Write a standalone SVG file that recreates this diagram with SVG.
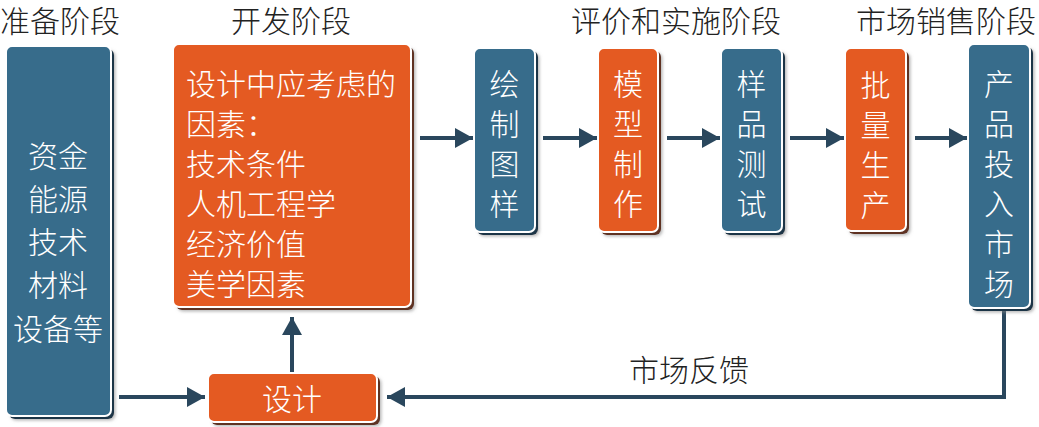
<svg xmlns="http://www.w3.org/2000/svg" width="1039" height="427" viewBox="0 0 1039 427">
<style>
text{font-family:"Noto Sans CJK SC","Noto Sans",sans-serif;font-size:30px;font-weight:300;dominant-baseline:central}
.title{fill:#222;text-anchor:middle}
.lbl{fill:#fff;text-anchor:middle}
.lft{fill:#fff;text-anchor:start}
.blue{fill:#376c8b;stroke:#fff;stroke-width:2}
.orange{fill:#e45a22;stroke:#fff;stroke-width:2}
.sb{fill:#1f3647;filter:url(#soft)}
.so{fill:#5f3220;filter:url(#soft)}
.conn{fill:none;stroke:#2a475d;stroke-width:4}
</style>
<defs>
<filter id="soft" x="-20%" y="-20%" width="140%" height="140%">
<feDropShadow dx="1.5" dy="1.5" stdDeviation="1.5" flood-color="#888" flood-opacity="0.6"/>
</filter>
<marker id="ah" markerUnits="userSpaceOnUse" viewBox="0 0 18 20" refX="18" refY="10" markerWidth="18" markerHeight="20" orient="auto">
<path d="M0,0 L18,10 L0,20 z" fill="#2a475d"/>
</marker>
</defs>
<rect width="1039" height="427" fill="#fff"/>
<g id="titles">
<text class="title" x="60" y="19">准备阶段</text>
<text class="title" x="291" y="19">开发阶段</text>
<text class="title" x="676" y="19">评价和实施阶段</text>
<text class="title" x="946" y="19">市场销售阶段</text>
</g>
<g id="connectors">
<line class="conn" x1="119" y1="397" x2="205" y2="397" marker-end="url(#ah)"/>
<line class="conn" x1="292" y1="372" x2="292" y2="317" marker-end="url(#ah)"/>
<line class="conn" x1="420" y1="138" x2="473" y2="138" marker-end="url(#ah)"/>
<line class="conn" x1="543" y1="138" x2="597" y2="138" marker-end="url(#ah)"/>
<line class="conn" x1="667" y1="138" x2="720" y2="138" marker-end="url(#ah)"/>
<line class="conn" x1="790" y1="138" x2="844" y2="138" marker-end="url(#ah)"/>
<line class="conn" x1="915" y1="138" x2="967" y2="138" marker-end="url(#ah)"/>
<polyline class="conn" points="1004,311 1004,397 387,397" marker-end="url(#ah)"/>
<text class="title" x="689" y="368">市场反馈</text>
</g>
<g id="prep">
<rect class="sb" x="9" y="49" width="105" height="370" rx="6"/>
<rect class="blue" x="6" y="46" width="105" height="370" rx="6"/>
<text class="lbl"><tspan x="58" y="154">资金</tspan><tspan x="58" y="197">能源</tspan><tspan x="58" y="240">技术</tspan><tspan x="58" y="283">材料</tspan><tspan x="58" y="327">设备等</tspan></text>
</g>
<g id="factors">
<rect class="so" x="176" y="47" width="238" height="263" rx="6"/>
<rect class="orange" x="173" y="44" width="238" height="263" rx="6"/>
<text class="lft"><tspan x="186" y="82">设计中应考虑的</tspan><tspan x="186" y="122">因素：</tspan><tspan x="186" y="162">技术条件</tspan><tspan x="186" y="202">人机工程学</tspan><tspan x="186" y="242">经济价值</tspan><tspan x="186" y="282">美学因素</tspan></text>
</g>
<g id="design">
<rect class="so" x="211" y="376" width="169" height="49" rx="6"/>
<rect class="orange" x="208" y="373" width="169" height="49" rx="6"/>
<text class="lbl" x="292" y="397">设计</text>
</g>
<g id="drawing">
<rect class="sb" x="477" y="51" width="61" height="184" rx="6"/>
<rect class="blue" x="474" y="48" width="61" height="184" rx="6"/>
<text class="lbl"><tspan x="504.5" y="82">绘</tspan><tspan x="504.5" y="122">制</tspan><tspan x="504.5" y="162">图</tspan><tspan x="504.5" y="202">样</tspan></text>
</g>
<g id="model">
<rect class="so" x="601" y="51" width="60" height="184" rx="6"/>
<rect class="orange" x="598" y="48" width="60" height="184" rx="6"/>
<text class="lbl"><tspan x="628" y="82">模</tspan><tspan x="628" y="122">型</tspan><tspan x="628" y="162">制</tspan><tspan x="628" y="202">作</tspan></text>
</g>
<g id="test">
<rect class="sb" x="724" y="51" width="61" height="184" rx="6"/>
<rect class="blue" x="721" y="48" width="61" height="184" rx="6"/>
<text class="lbl"><tspan x="751.5" y="82">样</tspan><tspan x="751.5" y="122">品</tspan><tspan x="751.5" y="162">测</tspan><tspan x="751.5" y="202">试</tspan></text>
</g>
<g id="mass">
<rect class="so" x="848" y="51" width="61" height="183" rx="6"/>
<rect class="orange" x="845" y="48" width="61" height="183" rx="6"/>
<text class="lbl"><tspan x="875.5" y="83">批</tspan><tspan x="875.5" y="123">量</tspan><tspan x="875.5" y="163">生</tspan><tspan x="875.5" y="203">产</tspan></text>
</g>
<g id="market">
<rect class="sb" x="971" y="47" width="62" height="264" rx="6"/>
<rect class="blue" x="968" y="44" width="62" height="264" rx="6"/>
<text class="lbl"><tspan x="999" y="82">产</tspan><tspan x="999" y="122">品</tspan><tspan x="999" y="162">投</tspan><tspan x="999" y="202">入</tspan><tspan x="999" y="242">市</tspan><tspan x="999" y="282">场</tspan></text>
</g>
</svg>
